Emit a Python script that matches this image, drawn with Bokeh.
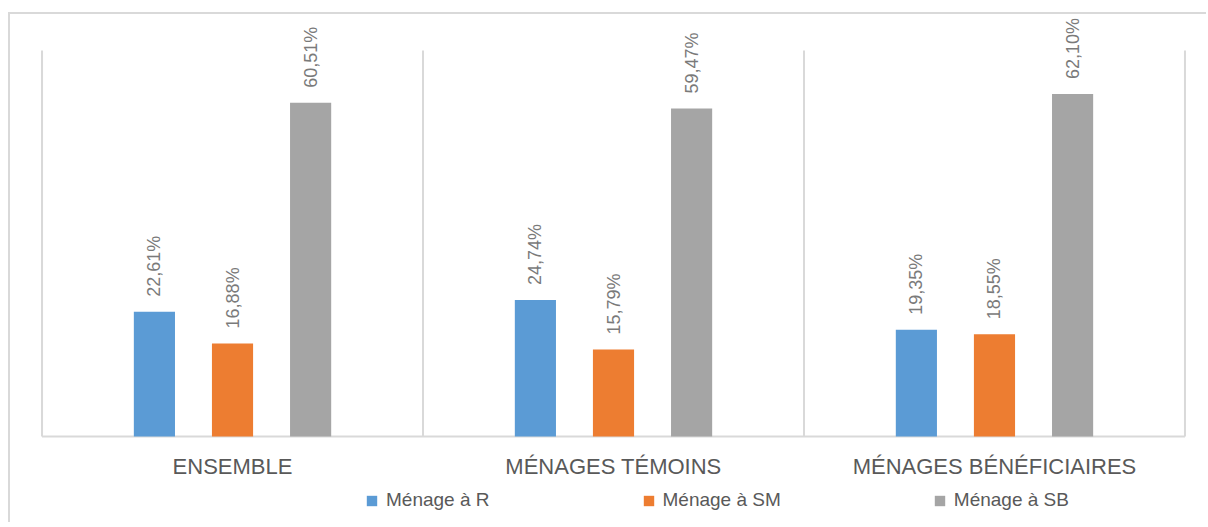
import math
from bokeh.plotting import figure
from bokeh.models import ColumnDataSource, Range1d, Legend, LegendItem
from bokeh.core.properties import value
from bokeh.embed import file_html
from bokeh.resources import INLINE

categories = ["ENSEMBLE", "MÉNAGES TÉMOINS", "MÉNAGES BÉNÉFICIAIRES"]
series_names = ["Ménage à R", "Ménage à SM", "Ménage à SB"]
menage_r = [22.61, 24.74, 19.35]
menage_sm = [16.88, 15.79, 18.55]
menage_sb = [60.51, 59.47, 62.10]
label_r = ["22,61%", "24,74%", "19,35%"]
label_sm = ["16,88%", "15,79%", "18,55%"]
label_sb = ["60,51%", "59,47%", "62,10%"]
colors = ["#5B9BD5", "#ED7D31", "#A5A5A5"]
axis_max = 70

FONT = "Liberation Sans"
n = len(categories)
pad = 0.004
ppu = 386 / axis_max          # pixels per percent
frame_h = 504
y_top = 418 / ppu
y_bot = -86 / ppu

p = figure(width=1196, height=508, frame_width=1146, frame_height=frame_h,
           output_backend="svg", toolbar_location=None,
           x_range=Range1d(-pad, n + pad), y_range=Range1d(y_bot, y_top),
           min_border_left=30, min_border_right=20, min_border_top=4,
           min_border_bottom=0, outline_line_color=None,
           styles={"border-top": "2px solid #d9d9d9", "border-left": "2px solid #d9d9d9",
                   "margin-top": "12px", "margin-left": "8px"})
p.xaxis.visible = False
p.yaxis.visible = False
p.xgrid.grid_line_color = None
p.ygrid.grid_line_color = None

# category separators and baseline
bounds = list(range(n + 1))
p.segment(x0=bounds, y0=[0] * (n + 1), x1=bounds, y1=[axis_max] * (n + 1),
          line_color="#d9d9d9", line_width=2)
p.segment(x0=[0], y0=[0], x1=[n], y1=[0], line_color="#d9d9d9", line_width=2)

offsets = [-0.205, 0.0, 0.205]
all_vals = [menage_r, menage_sm, menage_sb]
all_labels = [label_r, label_sm, label_sb]
renderers = []
for k in range(3):
    xs = [i + 0.5 + offsets[k] for i in range(n)]
    src = ColumnDataSource(dict(x=xs, top=all_vals[k], lab=all_labels[k]))
    r = p.vbar(x="x", top="top", width=0.108, bottom=0, source=src,
               fill_color=colors[k], line_color=None)
    renderers.append(r)
    p.text(x="x", y="top", text="lab", source=src, angle=math.pi / 2,
           text_align="left", text_baseline="middle", y_offset=-15,
           text_font=value(FONT), text_font_size="18px", text_color="#7a7a7a")

# category labels
cat_src = ColumnDataSource(dict(x=[i + 0.5 for i in range(n)], y=[0] * n, t=categories))
p.text(x="x", y="y", text="t", source=cat_src, y_offset=30,
       text_align="center", text_baseline="middle",
       text_font=value(FONT), text_font_size="22px", text_color="#595959")

legend = Legend(items=[LegendItem(label=series_names[k], renderers=[renderers[k]]) for k in range(3)],
                orientation="horizontal", location=(325, 11),
                padding=0, margin=0, spacing=152, label_standoff=8,
                glyph_width=13, glyph_height=13,
                label_text_font=FONT, label_text_font_size="19px",
                label_text_color="#595959", border_line_color=None,
                background_fill_alpha=0)
p.add_layout(legend, "center")

open("out.html", "w").write(file_html(p, INLINE))
